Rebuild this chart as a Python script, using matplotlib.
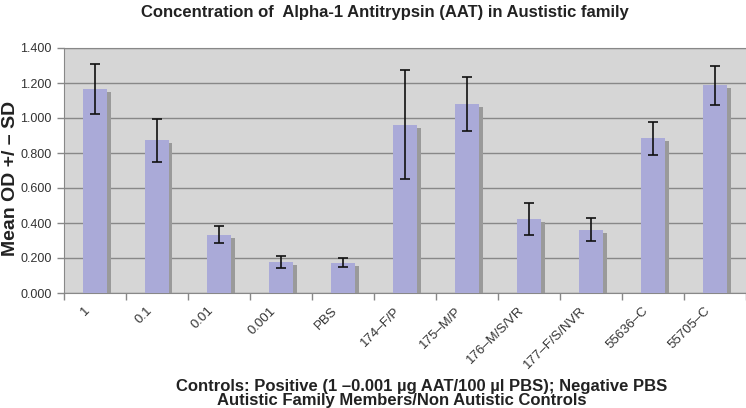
import matplotlib
matplotlib.use("Agg")
import matplotlib.pyplot as plt
import numpy as np

categories = ["1", "0.1", "0.01", "0.001", "PBS", "174\u2013F/P", "175\u2013M/P",
              "176\u2013M/S/VR", "177\u2013F/S/NVR", "55636\u2013C", "55705\u2013C"]
means = [1.166, 0.872, 0.333, 0.177, 0.173, 0.962, 1.080, 0.423, 0.362, 0.884, 1.186]
sds = [0.143, 0.124, 0.048, 0.036, 0.027, 0.312, 0.153, 0.094, 0.065, 0.094, 0.113]
yticks = [0.0, 0.2, 0.4, 0.6, 0.8, 1.0, 1.2, 1.4]

plt.rcParams['font.family'] = ['Liberation Sans', 'DejaVu Sans']

fig = plt.figure(figsize=(7.46, 4.08), dpi=100)
ax = fig.add_axes([64/746, 1-293/408, 1-64/746, 245/408])
ax.set_facecolor('#d6d6d6')

x = np.arange(len(categories))
w = 0.4
# shadow
ax.bar(x + 0.05, np.array(means) - 0.017, width=w, color='#9a9a9a', zorder=2)
ax.bar(x, means, width=w, color='#aaaad8', zorder=3)
ax.errorbar(x, means, yerr=sds, fmt='none', ecolor='#111111', elinewidth=1.2,
            capsize=3.5, capthick=1.2, zorder=4)

ax.set_xlim(-0.5, len(categories) - 0.5)
ax.set_ylim(0, 1.4)
ax.set_yticks(yticks)
ax.set_yticklabels([f"{v:.3f}" for v in yticks], fontsize=9, color='#333333')
ax.yaxis.grid(True, color='#888888', linewidth=1, zorder=1)
ax.set_axisbelow(True)

ax.set_xticks(np.arange(len(categories) + 1) - 0.5, minor=False)
ax.set_xticklabels([])
ax.tick_params(axis='x', length=5, color='#888888', width=1)
ax.tick_params(axis='y', length=5, color='#888888', width=1, pad=4)
for i, lab in enumerate(categories):
    ax.annotate(lab, xy=(i, 0), xycoords=('data', 'axes fraction'),
                xytext=(-2, -8.5), textcoords='offset points',
                rotation=45, ha='right', va='top', fontsize=9.5, color='#333333')

ax.spines['right'].set_visible(False)
ax.spines['top'].set_color('#888888')
ax.spines['left'].set_color('#888888')
ax.spines['bottom'].set_color('#888888')

fig.text(0.516, 0.97, "Concentration of  Alpha-1 Antitrypsin (AAT) in Austistic family",
         ha='center', va='center', fontsize=12, fontweight='bold', color='#222222')
fig.text(0.014, 1-178/408, "Mean OD +/ \u2013 SD", rotation=90, ha='center', va='center',
         fontsize=14, fontweight='bold', color='#222222')
fig.text(176/746, 1-379/408,
         "Controls: Positive (1 \u20130.001 \u00b5g AAT/100 \u00b5l PBS); Negative PBS\n"
         "         Autistic Family Members/Non Autistic Controls",
         ha='left', va='top', multialignment='left', linespacing=0.9,
         fontsize=12, fontweight='bold', color='#222222')

fig.savefig("out.png", dpi=100)
